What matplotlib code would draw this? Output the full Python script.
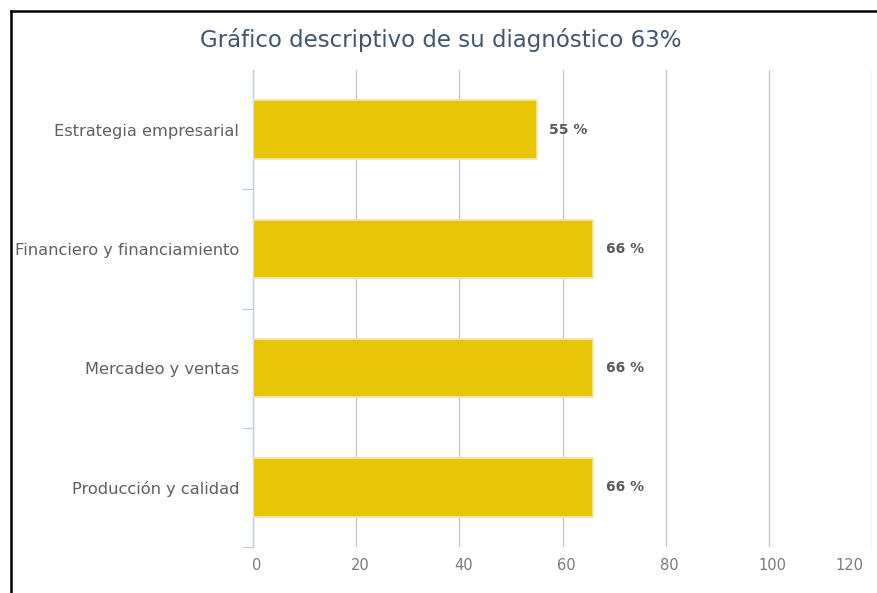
import matplotlib
matplotlib.use("Agg")
import matplotlib.pyplot as plt
from matplotlib.lines import Line2D
from matplotlib.transforms import offset_copy

categories = ["Estrategia empresarial", "Financiero y financiamiento",
              "Mercadeo y ventas", "Producción y calidad"]
values = [55, 66, 66, 66]
x_ticks = [0, 20, 40, 60, 80, 100, 120]
title = "Gráfico descriptivo de su diagnóstico 63%"

W, H = 877, 593
fig = plt.figure(figsize=(W / 100, H / 100), dpi=100)
fig.patch.set_facecolor("white")

left, right, top, bottom = 253, 872, 70, 547
ax = fig.add_axes([left / W, 1 - bottom / H, (right - left) / W, (bottom - top) / H])

n = len(categories)
ypos = list(range(n))
ax.barh(ypos, values, height=0.49, color="#E8C507", edgecolor="#EEE6B8",
        linewidth=1.2, zorder=3)

ax.set_xlim(0, 120)
ax.set_ylim(n - 0.5, -0.5)
ax.set_xticks(x_ticks)
ax.grid(axis="x", color="#C8C8C8", linewidth=1, zorder=0)
ax.set_axisbelow(True)
ax.set_xticklabels([])

for s in ["top", "right", "bottom"]:
    ax.spines[s].set_visible(False)
ax.spines["left"].set_color("#C0D0E0")
ax.spines["left"].set_linewidth(1)

ax.tick_params(axis="x", length=0)
ax.set_yticks(ypos)
ax.set_yticklabels(categories)
ax.tick_params(axis="y", length=0, pad=10, labelsize=11.7, labelcolor="#606060")

# category boundary ticks on the y axis
ax.set_yticks([i + 0.5 for i in range(n)], minor=True)
ax.tick_params(axis="y", which="minor", length=8, color="#C0D0E0", width=1)

# x tick labels, the last one pulled inside the plot edge
xlab_tr = ax.get_xaxis_transform()
for t in x_ticks:
    if t == x_ticks[-1]:
        tr = offset_copy(xlab_tr, fig=fig, x=-9, y=0, units="dots")
        ha = "right"
    else:
        tr = offset_copy(xlab_tr, fig=fig, x=4, y=0, units="dots")
        ha = "center"
    ax.text(t, -0.038, str(t), transform=tr, ha=ha, va="center",
            fontsize=10.5, color="#7A7A7A")

for y, v in zip(ypos, values):
    ax.annotate(f"{v} %", (v, y), xytext=(9, 0), textcoords="offset points",
                va="center", ha="left", fontsize=10, fontweight="bold",
                color="#5A5A5A", zorder=4)

fig.text(0.5 * (200 + 682) / W, 1 - 40 / H, title, ha="center",
         va="center", fontsize=16.5, color="#3E576F")

# frame lines along the top and left edges
fig.add_artist(Line2D([11 / W, 1], [1 - 11 / H, 1 - 11 / H], color="black",
                      linewidth=1.8, transform=fig.transFigure))
fig.add_artist(Line2D([11 / W, 11 / W], [0, 1 - 11 / H], color="black",
                      linewidth=1.8, transform=fig.transFigure))

fig.savefig("out.png", dpi=100)
